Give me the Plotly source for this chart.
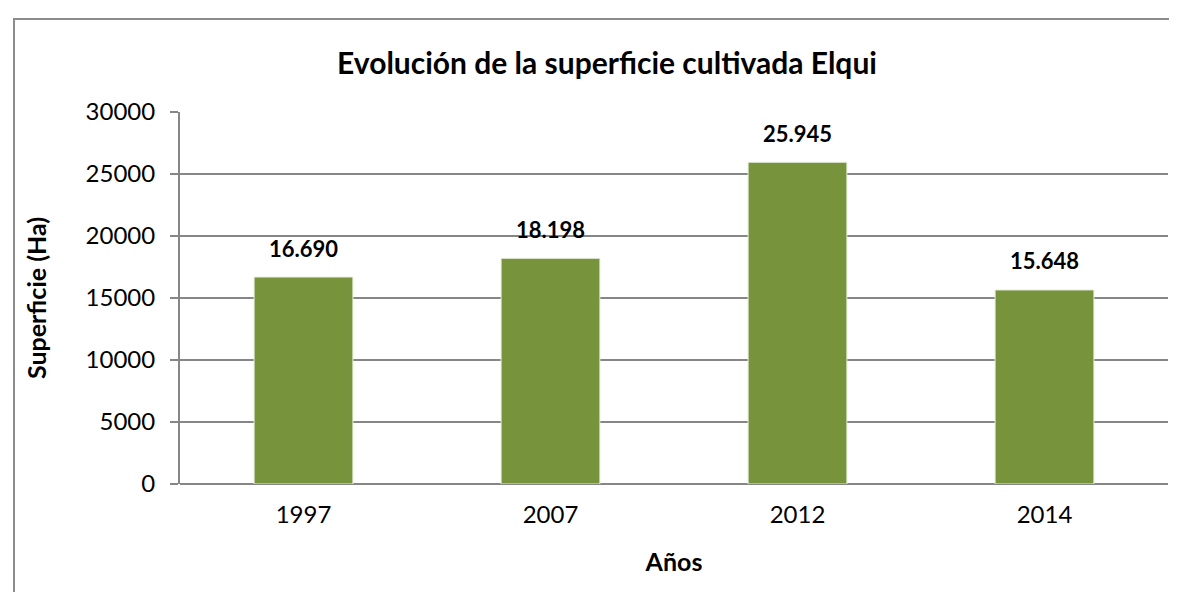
import plotly.graph_objects as go

years = ["1997", "2007", "2012", "2014"]
superficie = [16690, 18198, 25945, 15648]
y_ticks = [0, 5000, 10000, 15000, 20000, 25000, 30000]

W, H = 1177, 592
L, R, T, B = 172, 17, 104, 116
pw, ph = W - L - R, H - T - B

def px_x(px):
    return (px - L) / pw

def px_y(py):
    return (H - B - py) / ph

FONT = "Lato"
GRID = "#868686"
GREEN = "#77933C"

fig = go.Figure()
fig.add_trace(go.Bar(
    x=years, y=superficie,
    marker=dict(color=GREEN, line=dict(color="#E6EDD9", width=1)),
    width=0.4,
    hoverinfo="skip",
))

for i, v in enumerate(superficie):
    fig.add_annotation(
        x=i, y=v, xref="x", yref="y",
        text="<b>" + f"{v:,}".replace(",", ".") + "</b>",
        showarrow=False, yanchor="middle", yshift=29,
        font=dict(family=FONT, size=22, color="#000000"),
    )

fig.update_layout(
    width=W, height=H,
    margin=dict(l=L, r=R, t=T, b=B, pad=0),
    paper_bgcolor="white", plot_bgcolor="white",
    showlegend=False,
    bargap=0.6,
    title=dict(text="<b>Evolución de la superficie cultivada Elqui</b>",
               x=px_x(599), xref="paper", xanchor="center",
               y=1 - 55 / H, yref="container", yanchor="middle",
               font=dict(family=FONT, size=30, color="#000000")),
    xaxis=dict(
        type="category", categoryorder="array", categoryarray=years,
        range=[-0.5, len(years) - 0.5],
        showgrid=False, showline=False, ticks="",
        tickfont=dict(family=FONT, size=24, color="#000000"),
        ticklabelstandoff=14,
        title=dict(text="<b>Años</b>", font=dict(family=FONT, size=25, color="#000000"), standoff=26),
    ),
    yaxis=dict(
        range=[0, 30000], tickvals=y_ticks, ticktext=[str(v) for v in y_ticks],
        showgrid=True, gridcolor=GRID, gridwidth=2,
        showline=True, linecolor=GRID, linewidth=2,
        ticks="outside", ticklen=8, tickcolor=GRID, tickwidth=2,
        tickfont=dict(family=FONT, size=24, color="#000000"),
        ticklabelstandoff=10,
        zeroline=True, zerolinecolor=GRID, zerolinewidth=2,
        title=dict(text="<b>Superficie (Ha)</b>", font=dict(family=FONT, size=25, color="#000000"), standoff=32),
    ),
)

# outer chart border (top and left edges visible)
fig.add_shape(type="line", xref="paper", yref="paper",
              x0=px_x(5), x1=px_x(W + 5), y0=px_y(11), y1=px_y(11),
              line=dict(color="#8C8C8C", width=2))
fig.add_shape(type="line", xref="paper", yref="paper",
              x0=px_x(6), x1=px_x(6), y0=px_y(11), y1=px_y(H + 5),
              line=dict(color="#8C8C8C", width=2))
# zero-line tick extension on the left
fig.add_shape(type="line", xref="paper", yref="y",
              x0=px_x(164), x1=0, y0=0, y1=0,
              line=dict(color=GRID, width=2))

fig.write_html("out.html")
